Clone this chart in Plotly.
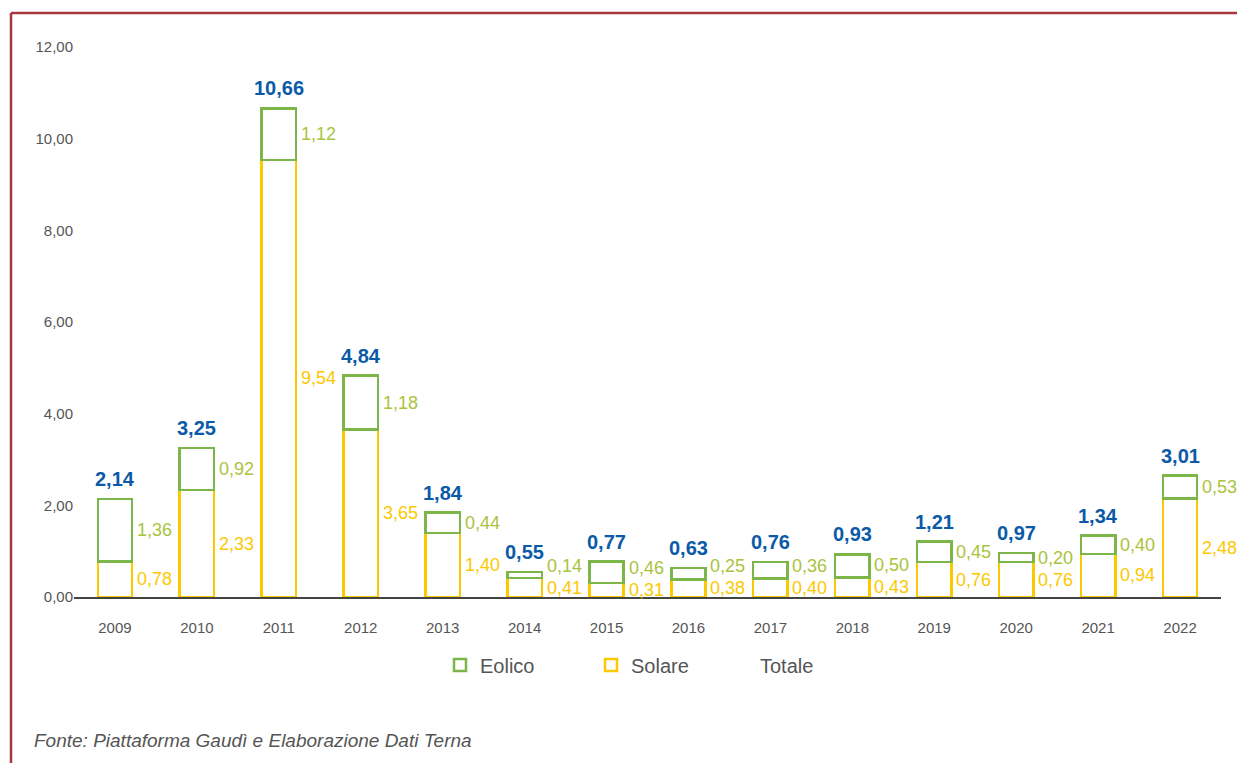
import plotly.graph_objects as go

anni = ["2009", "2010", "2011", "2012", "2013", "2014", "2015", "2016", "2017", "2018", "2019", "2020", "2021", "2022"]
# label values
solare = [0.78, 2.33, 9.54, 3.65, 1.40, 0.41, 0.31, 0.38, 0.40, 0.43, 0.76, 0.76, 0.94, 2.48]
eolico = [1.36, 0.92, 1.12, 1.18, 0.44, 0.14, 0.46, 0.25, 0.36, 0.50, 0.45, 0.20, 0.40, 0.53]
totale = [2.14, 3.25, 10.66, 4.84, 1.84, 0.55, 0.77, 0.63, 0.76, 0.93, 1.21, 0.97, 1.34, 3.01]
# bar heights as drawn in the picture (2022 is drawn shorter than its labels)
solare_bar = [0.78, 2.33, 9.54, 3.65, 1.40, 0.41, 0.31, 0.38, 0.40, 0.43, 0.76, 0.76, 0.94, 2.15]
eolico_bar = [1.36, 0.92, 1.12, 1.18, 0.44, 0.14, 0.46, 0.25, 0.36, 0.50, 0.45, 0.20, 0.40, 0.50]
y_ticks = [0, 2, 4, 6, 8, 10, 12]

GREEN_LINE = "#7cb548"
GREEN_TXT = "#a9c43c"
YELLOW = "#fcc800"
BLUE = "#0b5aa7"
GRAY = "#555555"
RED = "#a8353d"
FONT = "Liberation Sans"


def it(v):
    return f"{v:.2f}".replace(".", ",")


fig = go.Figure()
fig.add_trace(go.Bar(
    x=anni, y=solare_bar, name="Solare", width=0.42,
    marker=dict(color="white", line=dict(color=YELLOW, width=2.5)),
    legendrank=2, hoverinfo="skip"))
fig.add_trace(go.Bar(
    x=anni, y=eolico_bar, name="Eolico", width=0.42,
    marker=dict(color="white", line=dict(color=GREEN_LINE, width=2.5)),
    legendrank=1, hoverinfo="skip"))
fig.add_trace(go.Scatter(
    x=[anni[0]], y=[None], mode="markers", name="Totale", legend="legend2",
    marker=dict(color="rgba(0,0,0,0)", size=1)))

# pixel scale: 550 px for 12 units
unit_px = 550 / 12.0
min_gap = 22 / unit_px

annotations = []
for i, a in enumerate(anni):
    s = solare_bar[i]
    e = eolico_bar[i]
    ys = s / 2
    ye = s + e / 2
    if ye - ys < min_gap:
        ye = ys + min_gap
    annotations.append(dict(x=i, y=ys, text=it(solare[i]), showarrow=False,
                            xanchor="left", yanchor="middle", xshift=20,
                            font=dict(family=FONT, size=18, color=YELLOW)))
    annotations.append(dict(x=i, y=ye, text=it(eolico[i]), showarrow=False,
                            xanchor="left", yanchor="middle", xshift=20,
                            font=dict(family=FONT, size=18, color=GREEN_TXT)))
    annotations.append(dict(x=i, y=s + e, text="<b>" + it(totale[i]) + "</b>", showarrow=False,
                            xanchor="center", yanchor="bottom", yshift=7,
                            font=dict(family=FONT, size=20, color=BLUE)))

annotations.append(dict(
    xref="paper", yref="paper", x=(32 - 74) / 1147, y=(597 - 740) / 550,
    text="Fonte: Piattaforma Gaudì e Elaborazione Dati Terna", showarrow=False,
    xanchor="left", yanchor="middle",
    font=dict(family=FONT, size=19, color=GRAY, style="italic")))

shapes = [
    dict(type="line", xref="paper", yref="paper",
         x0=(11 - 74) / 1147, x1=(1240 - 74) / 1147, y0=(597 - 13) / 550, y1=(597 - 13) / 550,
         line=dict(color=RED, width=2.5)),
    dict(type="line", xref="paper", yref="paper",
         x0=(11 - 74) / 1147, x1=(11 - 74) / 1147, y0=(597 - 13) / 550, y1=(597 - 766) / 550,
         line=dict(color=RED, width=2.5)),
]

legend_y = (597 - 665) / 550
fig.update_layout(
    width=1237, height=763,
    margin=dict(l=74, r=16, t=47, b=166),
    plot_bgcolor="white", paper_bgcolor="white",
    barmode="stack",
    font=dict(family=FONT, color=GRAY),
    showlegend=True,
    legend=dict(orientation="h", x=(440 - 74) / 1147, xanchor="left", y=legend_y, yanchor="middle",
                font=dict(family=FONT, size=20, color=GRAY), traceorder="normal",
                entrywidth=106, entrywidthmode="pixels"),
    legend2=dict(orientation="h", x=(720 - 74) / 1147, xanchor="left", y=legend_y, yanchor="middle",
                 font=dict(family=FONT, size=20, color=GRAY)),
    annotations=annotations,
    shapes=shapes,
    xaxis=dict(type="category", showgrid=False, showline=True, linecolor="#444444", linewidth=1.5,
               ticks="", ticklabelstandoff=16, tickfont=dict(family=FONT, size=15, color=GRAY),
               range=[-0.5, 13.5]),
    yaxis=dict(showgrid=False, zeroline=False, showline=False, range=[0, 12],
               tickvals=y_ticks, ticktext=[it(v) for v in y_ticks],
               tickfont=dict(family=FONT, size=15, color=GRAY), ticks="", ticklen=0),
)

fig.write_html("out.html")
